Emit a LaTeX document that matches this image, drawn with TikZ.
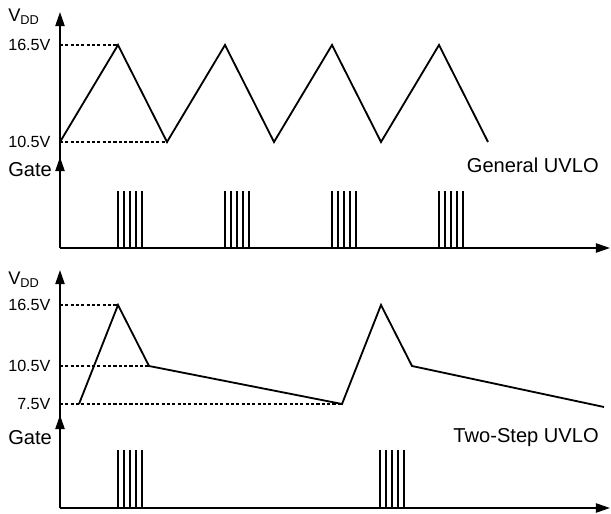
\documentclass[tikz,border=0pt]{standalone}
\usepackage{fontspec}
\setmainfont{Liberation Sans}
\usetikzlibrary{arrows.meta}
\begin{document}
\begin{tikzpicture}
\tikzstyle{every node}=[inner sep=0pt]
\tikzstyle{axis}=[-{Triangle[length=10pt,width=6.5pt]}, line width=1.3pt]
\tikzstyle{wave}=[line width=1.3pt, line join=miter]
\tikzstyle{levelline}=[line width=0.9pt, dash pattern=on 2.2pt off 1.6pt]
\tikzstyle{pulse}=[line width=1.3pt]
\tikzstyle{vallabel}=[anchor=east, font=\fontsize{11.5}{13}\selectfont]
\tikzstyle{siglabel}=[anchor=base west, font=\fontsize{14.3}{17}\selectfont]
\tikzstyle{modelabel}=[anchor=base east, font=\fontsize{14.3}{17}\selectfont]
\useasboundingbox (0,0) rectangle (15.275,12.85);

% general UVLO
\begin{scope}
\draw[levelline](1.5,11.725)--(2.95,11.725);
\draw[levelline](1.5,9.3)--(4.175,9.3);
\draw[axis](1.5,6.65)--(15.25,6.65);
\draw[axis](1.5,6.65)--(1.5,12.55);
\draw[axis](1.5,6.65)--(1.5,8.925);
\draw[wave](1.5,9.3)--(2.95,11.725)--(4.175,9.3)--(5.625,11.725)--(6.85,9.3)--(8.3,11.725)--(9.525,9.3)--(10.975,11.725)--(12.2,9.3);
\foreach \p in {2.95,5.625,8.3,10.975}{\foreach \k in {0,...,4}{\draw[pulse](\p+0.15*\k,6.65)--(\p+0.15*\k,8.075);}}
\node[anchor=base west,font=\fontsize{13}{15}\selectfont] (vdda) at (0.2,12.3) {V\textsubscript{DD}};
\node[vallabel] (higha) at (1.27,11.725) {16.5V};
\node[vallabel] (lowa) at (1.27,9.3) {10.5V};
\node[siglabel] (gatea) at (0.2,8.425) {Gate};
\node[modelabel] (modea) at (14.975,8.53) {General UVLO};
\end{scope}

%%%------------------------------------------------------------
% two-step UVLO
\begin{scope}
\draw[levelline](1.5,5.225)--(2.95,5.225);
\draw[levelline](1.5,3.7)--(3.725,3.7);
\draw[levelline](1.5,2.75)--(8.55,2.75);
\draw[axis](1.5,0.15)--(15.25,0.15);
\draw[axis](1.5,0.15)--(1.5,6.1);
\draw[axis](1.5,0.15)--(1.5,2.475);
\draw[wave](1.975,2.75)--(2.95,5.225)--(3.725,3.7)--(8.55,2.75)--(9.525,5.225)--(10.3,3.7)--(15.1,2.675);
\foreach \p in {2.95,9.5}{\foreach \k in {0,...,4}{\draw[pulse](\p+0.15*\k,0.15)--(\p+0.15*\k,1.6);}}
\node[anchor=base west,font=\fontsize{13}{15}\selectfont] (vddb) at (0.2,5.725) {V\textsubscript{DD}};
\node[vallabel] (highb) at (1.27,5.225) {16.5V};
\node[vallabel] (midb) at (1.27,3.7) {10.5V};
\node[vallabel] (lowb) at (1.27,2.75) {7.5V};
\node[siglabel] (gateb) at (0.2,1.725) {Gate};
\node[modelabel] (modeb) at (14.975,1.775) {Two-Step UVLO};
\end{scope}
\end{tikzpicture}
\end{document}
